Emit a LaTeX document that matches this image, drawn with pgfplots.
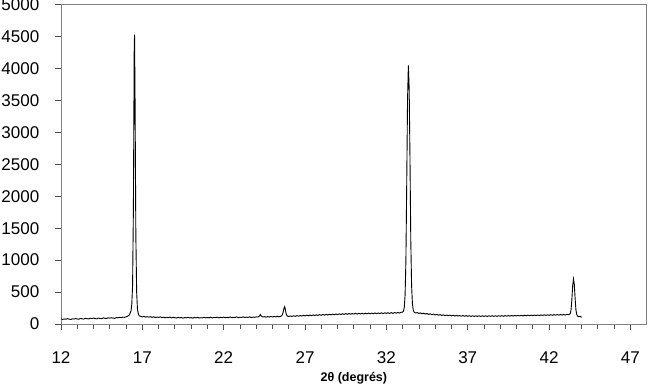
\documentclass[border=0pt]{standalone}
\usepackage{pgfplots}
\pgfplotsset{compat=1.18}
\usepackage{fontspec}
\setmainfont{Liberation Sans}
\begin{document}
\begin{tikzpicture}
\useasboundingbox (-61pt,-61pt) rectangle (596pt,324pt);
\begin{axis}[
  scale only axis,
  width=585.7pt, height=319.3pt,
  xmin=12, xmax=48, ymin=0, ymax=5000,
  xtick={12,17,...,47}, minor x tick num=4,
  ytick={0,500,...,5000},
  tick align=outside,
  xtick pos=bottom, ytick pos=left,
  major tick length=6pt, minor tick length=5pt,
  axis line style={draw=black!50, line width=0.9pt},
  every tick/.style={black!70, line width=0.8pt},
  /pgf/number format/assume math mode=true,
  /pgf/number format/1000 sep={},
  ticklabel style={font=\fontsize{17}{20}\selectfont, inner sep=0pt},
  xticklabel style={anchor=center, yshift=-27.5pt},
  yticklabel style={anchor=east, xshift=-15.5pt},
  xlabel={2θ (degrés)},
  xlabel style={font=\bfseries\fontsize{12.5}{14}\selectfont, at={(axis description cs:0.5,0)}, anchor=center, yshift=-54pt},
]
\addplot[black, line width=0.9pt] table {
x y
12.0 80
12.1 71
12.2 79
12.3 74
12.4 84
12.5 76
12.6 70
12.7 82
12.8 77
12.9 86
13.0 79
13.1 74
13.2 88
13.3 81
13.4 77
13.5 90
13.6 83
13.7 79
13.8 91
13.9 84
14.0 93
14.1 85
14.2 80
14.3 94
14.4 87
14.5 82
14.6 96
14.7 89
14.8 86
14.9 97
15.0 90
15.1 99
15.2 93
15.3 88
15.4 102
15.5 96
15.6 105
15.7 99
15.8 108
15.9 104
16.0 112
16.1 121
16.2 142
16.3 200
16.35 300
16.4 600
16.45 1800
16.5 4300
16.52 4530
16.55 3600
16.6 1400
16.65 500
16.7 230
16.75 160
16.8 130
16.9 118
17.0 112
17.1 119
17.2 108
17.3 115
17.4 106
17.5 114
17.6 104
17.7 113
17.8 101
17.9 110
18.0 103
18.1 112
18.2 99
18.3 107
18.4 96
18.5 106
18.6 100
18.7 108
18.8 95
18.9 104
19.0 99
19.1 93
19.2 105
19.3 96
19.4 102
19.5 91
19.6 101
19.7 95
19.8 106
19.9 94
20.0 100
20.1 92
20.2 103
20.3 95
20.4 104
20.5 93
20.6 99
20.7 96
20.8 106
20.9 94
21.0 102
21.1 97
21.2 107
21.3 95
21.4 103
21.5 98
21.6 108
21.7 96
21.8 104
21.9 99
22.0 109
22.1 97
22.2 105
22.3 100
22.4 110
22.5 98
22.6 106
22.7 101
22.8 111
22.9 99
23.0 107
23.1 102
23.2 112
23.3 100
23.4 108
23.5 103
23.6 113
23.7 101
23.8 109
23.9 104
24.0 112
24.1 108
24.2 125
24.25 148
24.3 128
24.4 110
24.5 115
24.6 106
24.7 117
24.8 109
24.9 118
25.0 110
25.1 119
25.2 111
25.3 120
25.4 112
25.5 119
25.6 140
25.65 182
25.7 242
25.75 272
25.8 212
25.85 150
25.9 125
26.0 117
26.1 126
26.2 118
26.3 129
26.4 120
26.5 131
26.6 122
26.7 133
26.8 124
26.9 136
27.0 127
27.1 138
27.2 128
27.3 140
27.4 130
27.5 142
27.6 132
27.7 144
27.8 134
27.9 147
28.0 136
28.1 149
28.2 138
28.3 151
28.4 140
28.5 153
28.6 142
28.7 155
28.8 144
28.9 158
29.0 146
29.1 160
29.2 148
29.3 162
29.4 150
29.5 163
29.6 151
29.7 165
29.8 153
29.9 166
30.0 154
30.1 167
30.2 155
30.3 168
30.4 156
30.5 169
30.6 157
30.7 170
30.8 158
30.9 171
31.0 159
31.1 172
31.2 160
31.3 173
31.4 161
31.5 174
31.6 162
31.7 175
31.8 163
31.9 176
32.0 164
32.1 177
32.2 165
32.3 178
32.4 167
32.5 180
32.6 168
32.7 182
32.8 170
32.9 184
33.0 186
33.05 200
33.1 260
33.15 450
33.2 1000
33.25 2200
33.3 3500
33.35 4050
33.4 3700
33.45 2600
33.5 1300
33.55 600
33.6 320
33.65 220
33.7 185
33.8 172
33.9 179
34.0 165
34.1 174
34.2 160
34.3 169
34.4 155
34.5 165
34.6 150
34.7 160
34.8 146
34.9 156
35.0 141
35.1 151
35.2 137
35.3 147
35.4 134
35.5 144
35.6 131
35.7 141
35.8 129
35.9 139
36.0 127
36.1 137
36.2 125
36.3 135
36.4 124
36.5 133
36.6 122
36.7 132
36.8 121
36.9 131
37.0 120
37.1 130
37.2 119
37.3 129
37.4 118
37.5 128
37.6 119
37.7 129
37.8 118
37.9 128
38.0 119
38.1 129
38.2 118
38.3 128
38.4 120
38.5 130
38.6 119
38.7 129
38.8 120
38.9 130
39.0 121
39.1 131
39.2 120
39.3 132
39.4 122
39.5 133
39.6 123
39.7 134
39.8 124
39.9 135
40.0 125
40.1 136
40.2 126
40.3 137
40.4 127
40.5 138
40.6 128
40.7 139
40.8 129
40.9 140
41.0 130
41.1 141
41.2 131
41.3 142
41.4 132
41.5 143
41.6 133
41.7 144
41.8 134
41.9 145
42.0 135
42.1 146
42.2 136
42.3 147
42.4 137
42.5 148
42.6 138
42.7 149
42.8 139
42.9 150
43.0 140
43.1 151
43.2 145
43.3 162
43.35 220
43.4 380
43.45 600
43.5 705
43.55 620
43.6 400
43.65 220
43.7 150
43.75 125
43.8 115
43.9 121
44.0 104
};
\end{axis}
\end{tikzpicture}
\end{document}
